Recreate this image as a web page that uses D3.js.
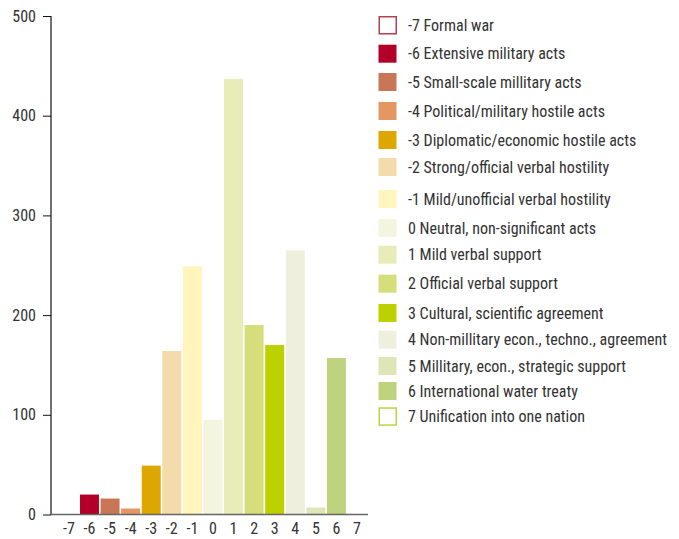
<!DOCTYPE html>
<html><head><meta charset="utf-8">
<script src="https://cdn.jsdelivr.net/npm/d3@7"></script>
<style>
html,body{margin:0;padding:0;background:#fff;}
svg{display:block;}
text{font-family:"Liberation Sans Narrow","Roboto Condensed","DejaVu Sans Condensed",sans-serif;fill:#333;}
</style></head>
<body><svg id="c" width="679" height="539"></svg>
<script>
const categories = [-7,-6,-5,-4,-3,-2,-1,0,1,2,3,4,5,6,7];
const values = [0,20,16,6,49,164,249,95,437,190,170,265,7,157,0];
const labels = ["-7 Formal war","-6 Extensive military acts","-5 Small-scale millitary acts","-4 Political/military hostile acts","-3 Diplomatic/economic hostile acts","-2 Strong/official verbal hostility","-1 Mild/unofficial verbal hostility","0 Neutral, non-significant acts","1 Mild verbal support","2 Official verbal support","3 Cultural, scientific agreement","4 Non-millitary econ., techno., agreement","5 Millitary, econ., strategic support","6 International water treaty","7 Unification into one nation"];
const colors = ["#ffffff","#b2002a","#c97656","#e59763","#dea700","#f4dbac","#fff5bd","#f3f5df","#e8ecb8","#d6dd7b","#bed100","#eef0dd","#dee6b8","#bfd27d","#ffffff"];
const strokes = ["#b5404c",null,null,null,null,null,null,null,null,null,null,null,null,null,"#bdd43f"];
const yTicks = [0,100,200,300,400,500];
// legend layout: top of each legend swatch (px)
const legendRowTops = [16,44.7,73,102,131,158,190,219,245.7,274.7,304,330.7,357,382,407.3];

const svg = d3.select("#c");
const x = d3.scaleBand().domain(categories).range([58.6,367.3]).paddingInner(0.077).paddingOuter(0.0385);
const y = d3.scaleLinear().domain([0,500]).range([514.5,16]);

// bars
svg.append("g").selectAll("rect").data(categories).join("rect")
  .attr("x", d=>x(d)).attr("width", x.bandwidth())
  .attr("y", (d,i)=>y(values[i])).attr("height",(d,i)=>y(0)-y(values[i]))
  .attr("fill",(d,i)=>colors[i]);

// y axis
const ya = svg.append("g").attr("transform","translate(51,0)")
  .call(d3.axisLeft(y).tickValues(yTicks).tickSize(8).tickPadding(7));
ya.select(".domain").attr("d","M0,16V515").attr("stroke","#111").attr("stroke-width",1.2);
ya.selectAll(".tick line").attr("stroke","#111");
ya.selectAll(".tick text").style("font-size","16px").attr("fill","#333");

// x axis
const xa = svg.append("g").attr("transform","translate(0,514.5)")
  .call(d3.axisBottom(x).tickSize(0).tickPadding(8));
xa.select(".domain").attr("d","M51,0H368").attr("stroke","#666").attr("stroke-width",1.5);
xa.selectAll(".tick text").style("font-size","16px").attr("fill","#333");

// legend
const lg = svg.append("g");
const rows = lg.selectAll("g").data(categories).join("g")
  .attr("transform",(d,i)=>`translate(378.5,${legendRowTops[i]})`);
rows.append("rect")
  .attr("x",(d,i)=>strokes[i]?0.75:0).attr("y",(d,i)=>strokes[i]?0.75:0)
  .attr("width",(d,i)=>strokes[i]?17:18).attr("height",(d,i)=>strokes[i]?17:18)
  .attr("fill",(d,i)=>colors[i])
  .attr("stroke",(d,i)=>strokes[i]||"none").attr("stroke-width",1.5);
rows.append("text").attr("x",29.5).attr("y",9).attr("dy","0.35em")
  .style("font-size","16px").text((d,i)=>labels[i]);
</script></body></html>
